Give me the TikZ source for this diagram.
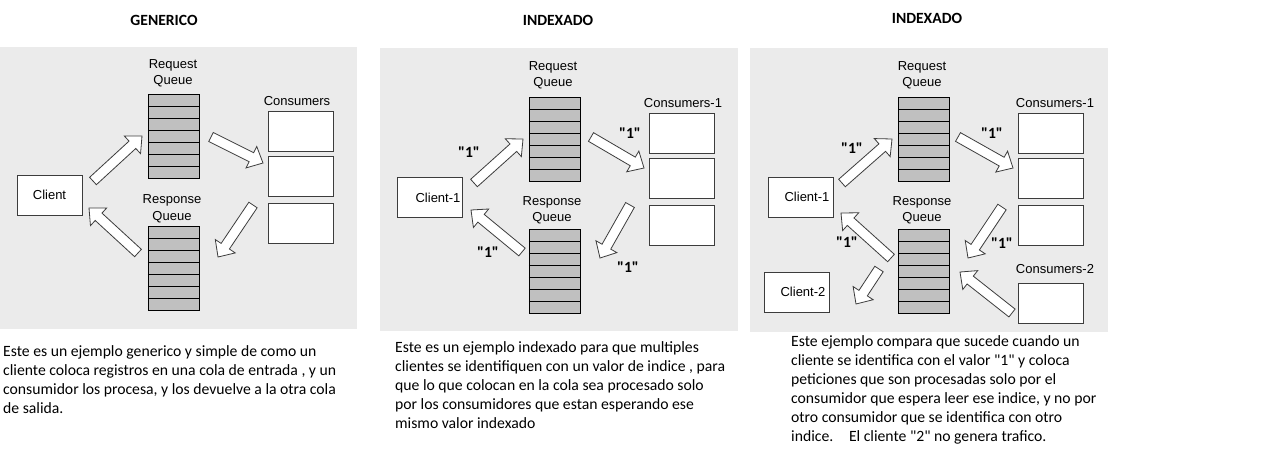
\documentclass[tikz,border=0pt]{standalone}
\usepackage{fontspec}
\setmainfont{Liberation Sans}
\newfontfamily\calfont{Carlito}
\usetikzlibrary{calc}

\definecolor{panelgray}{HTML}{EBEBEB}
\definecolor{queuegray}{HTML}{C0C0C0}
\definecolor{edgegray}{HTML}{3C3C3C}

\tikzset{
  panel/.style={fill=panelgray, draw=none},
  box/.style={draw=edgegray, fill=white, minimum width=65pt, minimum height=40pt, inner sep=0pt},
  queue/.style={draw=black, fill=queuegray, minimum width=51pt, minimum height=84pt, inner sep=0pt},
  lbl/.style={font=\fontsize{13}{16.5}\selectfont, align=center, inner sep=0pt},
  idx/.style={font=\calfont\bfseries\fontsize{15.6}{18}\selectfont, inner sep=0pt},
  ttl/.style={font=\calfont\bfseries\fontsize{15.6}{18}\selectfont, inner sep=0pt},
  desc/.style={font=\calfont\fontsize{15.7}{19}\selectfont, align=left, anchor=north west, inner sep=0pt},
  hollowarrow/.style={draw=edgegray, fill=white, line width=0.8pt, line join=miter}
}

% fat hollow arrow from #1 to #2
\newcommand{\fatarrow}[2]{%
  \coordinate (fa-h) at ($(#2)!13pt!(#1)$);
  \draw[hollowarrow] ($(#1)!5pt!90:(#2)$) -- ($(fa-h)!5pt!-90:(#1)$) -- ($(fa-h)!12pt!-90:(#1)$)
    -- (#2) -- ($(fa-h)!12pt!90:(#1)$) -- ($(fa-h)!5pt!90:(#1)$) -- ($(#1)!5pt!-90:(#2)$) -- cycle;}

\begin{document}
\begin{tikzpicture}[x=1pt,y=-1pt]
\useasboundingbox[fill=white] (0,0) rectangle (1272,474);

% panels
\fill[panel] (0,47) rectangle (357,329);
\fill[panel] (380,48) rectangle (738,331);
\fill[panel] (750,48) rectangle (1108,332);

% titles
\node[ttl] (t-gen) at (164,20) {GENERICO};
\node[ttl] (t-idx1) at (558,20) {INDEXADO};
\node[ttl] (t-idx2) at (927,18) {INDEXADO};

% generico
\node[queue] (g-rq) at (173.5,136.5) {};
\node[queue] (g-sq) at (173.5,268.5) {};
\node[box] (g-c1) at (301,131) {};
\node[box] (g-c2) at (301,176.5) {};
\node[box] (g-c3) at (301,223) {};
\node[box, font=\fontsize{13}{15}\selectfont] (g-cl) at (49.5,195) {Client};
\node[lbl] (g-rqt) at (173,73.5) {Request\\Queue};
\node[lbl] (g-sqt) at (172,209) {Response\\Queue};
\node[lbl] (g-ct) at (297,101) {Consumers};

\coordinate (g1a) at (93,181);  \coordinate (g1b) at (142,136);
\coordinate (g2a) at (211,137); \coordinate (g2b) at (263,163);
\coordinate (g3a) at (253,205); \coordinate (g3b) at (218,257);
\coordinate (g4a) at (138,253); \coordinate (g4b) at (89,208);
\fatarrow{g1a}{g1b}
\fatarrow{g2a}{g2b}
\fatarrow{g3a}{g3b}
\fatarrow{g4a}{g4b}

% indexado, un cliente
\node[queue] (i-rq) at (554.5,139) {};
\node[queue] (i-sq) at (554.5,271) {};
\node[box] (i-c1) at (681.5,133) {};
\node[box] (i-c2) at (681.5,178) {};
\node[box] (i-c3) at (681.5,225) {};
\node[box] (i-cl) at (430,197) {};
\node[lbl] (i-clt) at (438,198) {Client-1};
\node[lbl] (i-rqt) at (553,75.5) {Request\\Queue};
\node[lbl] (i-sqt) at (552,210.5) {Response\\Queue};
\node[lbl] (i-ct) at (683,103) {Consumers-1};

\coordinate (i1a) at (474,183); \coordinate (i1b) at (523,139);
\coordinate (i2a) at (591,137); \coordinate (i2b) at (644,168);
\coordinate (i3a) at (630,205); \coordinate (i3b) at (600,258);
\coordinate (i4a) at (522,252); \coordinate (i4b) at (471,210);
\fatarrow{i1a}{i1b}
\fatarrow{i2a}{i2b}
\fatarrow{i3a}{i3b}
\fatarrow{i4a}{i4b}
\node[idx] (i-n1) at (469,152) {"1"};
\node[idx] (i-n2) at (630,133) {"1"};
\node[idx] (i-n3) at (488,252) {"1"};
\node[idx] (i-n4) at (628,267) {"1"};

% indexado, dos clientes
\node[queue] (k-rq) at (924,139) {};
\node[queue] (k-sq) at (924,271) {};
\node[box] (k-c1) at (1050.5,133) {};
\node[box] (k-c2) at (1050.5,178) {};
\node[box] (k-c3) at (1050.5,225) {};
\node[box] (k-d1) at (1050.5,303) {};
\node[box] (k-cl1) at (800.5,197) {};
\node[box] (k-cl2) at (796.5,292) {};
\node[lbl] (k-cl1t) at (807,197) {Client-1};
\node[lbl] (k-cl2t) at (803,292) {Client-2};
\node[lbl] (k-rqt) at (922,75.5) {Request\\Queue};
\node[lbl] (k-sqt) at (922,210.5) {Response\\Queue};
\node[lbl] (k-ct1) at (1055,103) {Consumers-1};
\node[lbl] (k-ct2) at (1055,269) {Consumers-2};

\coordinate (k1a) at (842,183);  \coordinate (k1b) at (892,139);
\coordinate (k2a) at (958,137);  \coordinate (k2b) at (1013,168);
\coordinate (k3a) at (1002,207); \coordinate (k3b) at (968,258);
\coordinate (k4a) at (891,258);  \coordinate (k4b) at (841,213);
\coordinate (k5a) at (879,269);  \coordinate (k5b) at (856,304);
\coordinate (k6a) at (1012,313); \coordinate (k6b) at (960,272);
\fatarrow{k1a}{k1b}
\fatarrow{k2a}{k2b}
\fatarrow{k3a}{k3b}
\fatarrow{k4a}{k4b}
\fatarrow{k5a}{k5b}
\fatarrow{k6a}{k6b}
\node[idx] (k-n1) at (852,148) {"1"};
\node[idx] (k-n2) at (992,133) {"1"};
\node[idx] (k-n3) at (847,242) {"1"};
\node[idx] (k-n4) at (1002,243) {"1"};

% queue rows
\foreach \q in {g-rq,g-sq,i-rq,i-sq,k-rq,k-sq}
  \foreach \i in {1,...,6}
    \draw ($(\q.north west)!\i/7!(\q.south west)$) -- ($(\q.north east)!\i/7!(\q.south east)$);

% descriptions
\node[desc] (g-txt) at (3,345) {Este es un ejemplo generico y simple de como un\\cliente coloca registros en una cola de entrada , y un\\consumidor los procesa, y los devuelve a la otra cola\\de salida.};
\node[desc] (i-txt) at (395,341) {Este es un ejemplo indexado para que multiples\\clientes se identifiquen con un valor de indice , para\\que lo que colocan en la cola sea procesado solo\\por los consumidores que estan esperando ese\\mismo valor indexado};
\node[desc] (k-txt) at (791,335) {Este ejemplo compara que sucede cuando un\\cliente se identifica con el valor "1" y coloca\\peticiones que son procesadas solo por el\\consumidor que espera leer ese indice, y no por\\otro consumidor que se identifica con otro\\indice.\quad El cliente "2" no genera trafico.};
\end{tikzpicture}
\end{document}
